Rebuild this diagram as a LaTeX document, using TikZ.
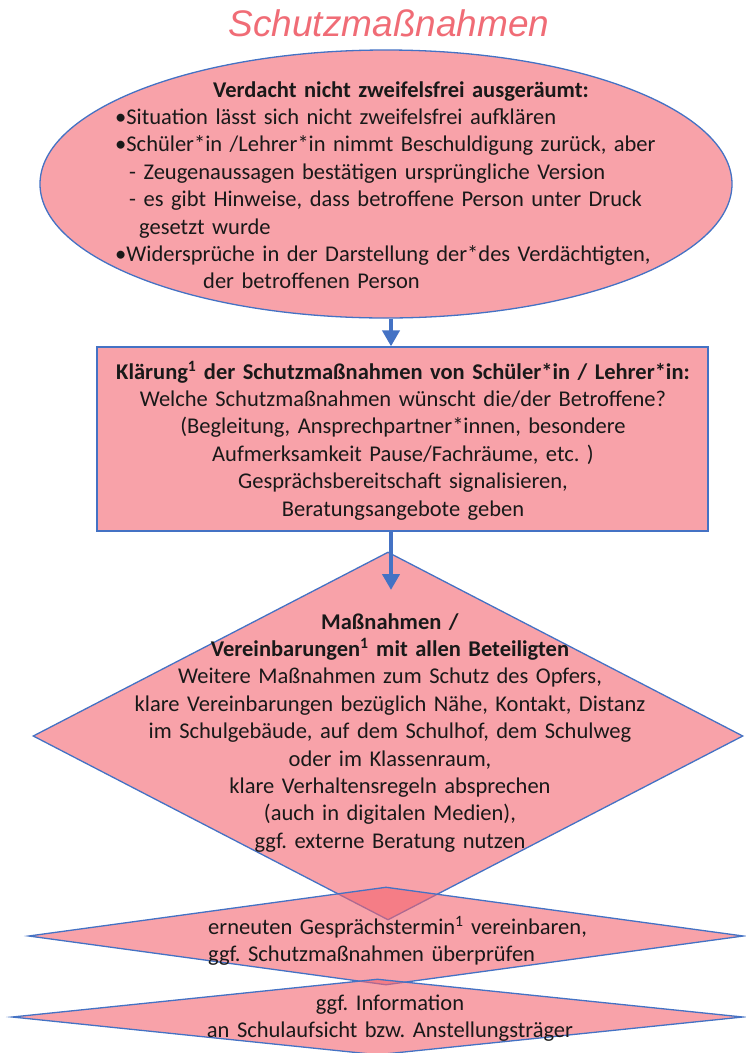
\documentclass[tikz,border=0pt]{standalone}
\usepackage{fontspec}
\setmainfont{Carlito}
\newfontfamily\headfont{Liberation Sans}
\usetikzlibrary{shapes.geometric,arrows.meta}
\definecolor{boxfill}{RGB}{243,100,111}
\definecolor{edgeblue}{RGB}{68,114,196}
\definecolor{headred}{RGB}{240,108,118}
\definecolor{ink}{RGB}{25,25,25}
\frenchspacing
\begin{document}
\begin{tikzpicture}[x=1pt,y=-1pt,
  shapebox/.style={draw=edgeblue, line width=1.3pt, fill=boxfill, fill opacity=0.6, inner sep=0pt},
  txt/.style={inner sep=0pt, text=ink, font=\fontsize{22.5}{27.4}\selectfont},
  flow/.style={draw=edgeblue, line width=4.5pt, -{Triangle[length=16pt,width=17pt]}}]
\useasboundingbox (0,0) rectangle (746,1053);

% heading
\node[inner sep=0pt, text=headred, font=\headfont\itshape\fontsize{37}{40}\selectfont] (heading) at (389,23) {Schutzmaßnahmen};

% shapes
\node[shapebox, ellipse, minimum width=692pt, minimum height=268pt] (verdacht) at (386,184) {};
\node[shapebox, rectangle, minimum width=611pt, minimum height=184pt] (klaerung) at (402.5,439) {};
\node[shapebox, diamond, minimum width=710pt, minimum height=368pt] (massnahmen) at (388,736) {};
\node[shapebox, diamond, minimum width=715pt, minimum height=98pt] (termin) at (386,936) {};
\node[shapebox, diamond, minimum width=731pt, minimum height=76pt] (info) at (377.5,1017) {};

% connectors
\coordinate (tip) at (391,590);
\draw[flow] (tip |- verdacht.south) -- (tip |- klaerung.north);
\draw[flow] (tip |- klaerung.south) -- (tip);

% texts
\node[txt, anchor=base west, text width=580pt, align=left] (verdachttext) at (115,97) {%
\hspace*{98pt}\textbf{Verdacht nicht zweifelsfrei ausgeräumt:}\\
•Situation lässt sich nicht zweifelsfrei aufklären\\
•Schüler*in /Lehrer*in nimmt Beschuldigung zurück, aber\\
\hspace*{14pt}- Zeugenaussagen bestätigen ursprüngliche Version\\
\hspace*{14pt}- es gibt Hinweise, dass betroffene Person unter Druck\\
\hspace*{24pt}gesetzt wurde\\
•Widersprüche in der Darstellung der*des Verdächtigten,\\
\hspace*{88pt}der betroffenen Person};

\node[txt, anchor=base, text width=600pt, align=center] (klaerungtext) at (403,379) {%
\textbf{Klärung\textsuperscript{1} der Schutzmaßnahmen von Schüler*in / Lehrer*in:}\\
Welche Schutzmaßnahmen wünscht die/der Betroffene?\\
(Begleitung, Ansprechpartner*innen, besondere\\
Aufmerksamkeit Pause/Fachräume, etc. )\\
Gesprächsbereitschaft signalisieren,\\
Beratungsangebote geben};

\node[txt, anchor=base, text width=620pt, align=center] (massnahmentext) at (390,629) {%
\textbf{Maßnahmen /}\\
\textbf{Vereinbarungen\textsuperscript{1} mit allen Beteiligten}\\
Weitere Maßnahmen zum Schutz des Opfers,\\
klare Vereinbarungen bezüglich Nähe, Kontakt, Distanz\\
im Schulgebäude, auf dem Schulhof, dem Schulweg\\
oder im Klassenraum,\\
klare Verhaltensregeln absprechen\\
(auch in digitalen Medien),\\
ggf. externe Beratung nutzen};

\node[txt, anchor=base west, text width=450pt, align=left] (termintext) at (208,934) {%
erneuten Gesprächstermin\textsuperscript{1} vereinbaren,\\
ggf. Schutzmaßnahmen überprüfen};

\node[txt, anchor=base, text width=450pt, align=center] (infotext) at (390,1010) {%
ggf. Information\\
an Schulaufsicht bzw. Anstellungsträger};
\end{tikzpicture}
\end{document}
